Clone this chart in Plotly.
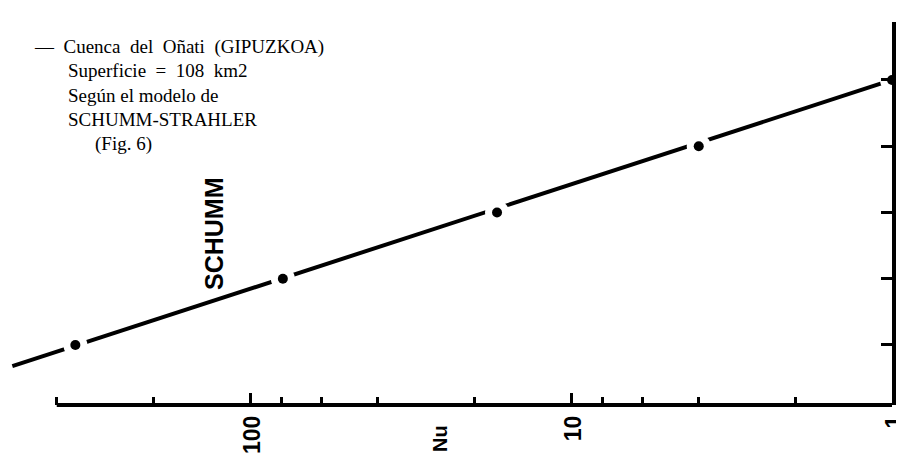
import math
import plotly.graph_objects as go

# ---- data ----
orders = [1, 2, 3, 4, 5]                 # stream order u
nu_values = [350, 79, 17, 4, 1]          # number of streams Nu
fit_nu = [550, 1]                        # Schumm regression line ends
fit_u = [0.68, 5.0]
major_ticks = [100, 10, 1]
major_labels = ["100", "10", "1"]
minor_ticks = [400, 200, 80, 60, 40, 20, 8, 6, 4, 2]
axis_start_nu = 400

# page body has an 8px margin; figure sized so the page does not overflow
OFF = 8
W, H = 904 - 2 * OFF, 464 - 2 * OFF
PL, PR, PT, PB = 8, 892, 22, 405         # plot area in reference pixels
DECADE = 321                              # pixels per decade on the Nu axis
L, T = PL - OFF, PT - OFF
R, B = W - (PR - OFF), H - (PB - OFF)
PW, PH = PR - PL, PB - PT


def px(x, y):
    return (x - PL) / PW, (PB - y) / PH


fig = go.Figure()
fig.add_trace(go.Scatter(x=fit_nu, y=fit_u, mode="lines",
                         line=dict(color="black", width=4), hoverinfo="skip"))
fig.add_trace(go.Scatter(x=nu_values, y=orders, mode="markers", cliponaxis=False,
                         marker=dict(color="white", size=24), hoverinfo="skip"))
fig.add_trace(go.Scatter(x=nu_values, y=orders, mode="markers", cliponaxis=False,
                         marker=dict(color="black", size=10), hoverinfo="skip"))

fig.update_layout(
    width=W, height=H, margin=dict(l=L, r=R, t=T, b=B, autoexpand=False),
    paper_bgcolor="white", plot_bgcolor="white", showlegend=False,
    xaxis=dict(type="log", range=[PW / DECADE, 0],
               showgrid=False, zeroline=False, showline=False,
               tickmode="array", tickvals=major_ticks, ticktext=major_labels,
               ticks="inside", ticklen=12, tickwidth=3, tickcolor="black",
               tickangle=-90, ticklabelstandoff=5, ticklabelshift=-3,
               ticklabeloverflow="allow",
               tickfont=dict(family="Liberation Sans", size=23, color="black", weight="bold"),
               minor=dict(tickmode="array", tickvals=minor_ticks, ticks="inside",
                          ticklen=8, tickwidth=3, tickcolor="black", showgrid=False)),
    yaxis=dict(range=[0.094, 5.875], side="right", showgrid=False, zeroline=False,
               showline=True, linecolor="black", linewidth=4,
               tickmode="array", tickvals=orders, ticks="inside", ticklen=11,
               tickwidth=3, tickcolor="black", showticklabels=False),
)

fig.add_shape(type="line", xref="x", yref="paper",
              x0=axis_start_nu, x1=1, y0=0, y1=0,
              line=dict(color="black", width=4))

serif = dict(family="Liberation Serif", size=19, color="black")
nb = "\u00a0"
lines = [
    (32, 47, f"—{nb}{nb}Cuenca{nb}{nb}del{nb}{nb}Oñati{nb}{nb}(GIPUZKOA)"),
    (66, 71, f"Superficie{nb}{nb}={nb}{nb}108{nb}{nb}km2"),
    (66, 96, "Según el modelo de"),
    (66, 120, "SCHUMM-STRAHLER"),
    (93, 144, "(Fig. 6)"),
]
for x, y, t in lines:
    ax, ay = px(x, y)
    fig.add_annotation(x=ax, y=ay, xref="paper", yref="paper", text=t,
                       showarrow=False, xanchor="left", yanchor="middle", font=serif)

sx, sy = px(214, 234)
fig.add_annotation(x=sx, y=sy, xref="paper", yref="paper", text="<b>SCHUMM</b>",
                   textangle=-90, showarrow=False, xanchor="center", yanchor="middle",
                   font=dict(family="Liberation Sans", size=25, color="black"))
nx, ny = px(440, 439)
fig.add_annotation(x=nx, y=ny, xref="paper", yref="paper", text="<b>Nu</b>",
                   textangle=-90, showarrow=False, xanchor="center", yanchor="middle",
                   font=dict(family="Liberation Sans", size=20, color="black"))

fig.write_html("out.html")
